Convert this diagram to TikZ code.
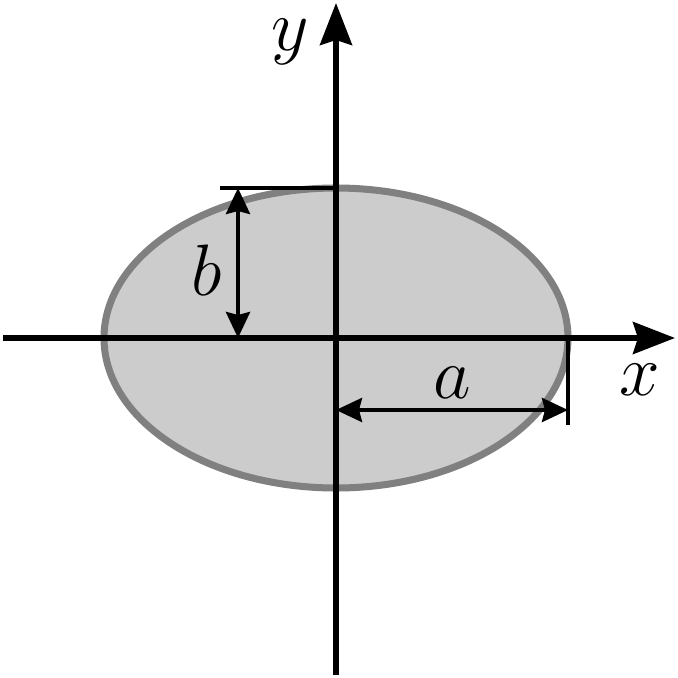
\documentclass[tikz,border=0pt]{standalone}
\usepackage{tikz}
\usetikzlibrary{arrows.meta}
\begin{document}
\begin{tikzpicture}[
  axis/.style={draw,line width=1.45pt,-{Stealth[length=4.2mm,width=3.2mm,inset=0.5mm]}},
  dim/.style={draw,line width=1.1pt},
  dimarrow/.style={draw,line width=1.1pt,{Stealth[length=2.6mm,width=2.4mm,inset=0.3mm]}-{Stealth[length=2.6mm,width=2.4mm,inset=0.3mm]}},
  lbl/.style={font=\fontsize{20}{24}\selectfont}
]
\useasboundingbox (-3.36,-3.40) rectangle (3.41,3.38);
% the ellipse
\path[fill={rgb,255:red,204;green,204;blue,204},draw={rgb,255:red,128;green,128;blue,128},line width=2pt] (0,0) ellipse [x radius=2.32, y radius=1.50];
% axes
\coordinate (O) at (0,0);
\coordinate (xs) at (-3.33,0);
\coordinate (xe) at (3.39,0);
\coordinate (ys) at (0,-3.37);
\coordinate (ye) at (0,3.35);
\path[axis] (xs) -- (xe);
\path[axis] (ys) -- (ye);
\node[lbl] (xl) at (3.04,-0.42) {$x$};
\node[lbl] (yl) at (-0.46,2.96) {$y$};
% b
\coordinate (bt) at (-1.16,1.50);
\coordinate (bc) at (0,1.50);
\coordinate (b1) at (-0.98,1.50);
\coordinate (b2) at (-0.98,0);
\path[dim] (bt) -- (bc);
\path[dimarrow] (b1) -- (b2);
\node[lbl] (bl) at (-1.29,0.68) {$b$};
% a
\coordinate (ar) at (2.32,0);
\coordinate (ab) at (2.32,-0.87);
\coordinate (a1) at (0,-0.72);
\coordinate (a2) at (2.32,-0.72);
\path[dim] (ar) -- (ab);
\path[dimarrow] (a1) -- (a2);
\node[lbl] (al) at (1.16,-0.45) {$a$};
\end{tikzpicture}
\end{document}
